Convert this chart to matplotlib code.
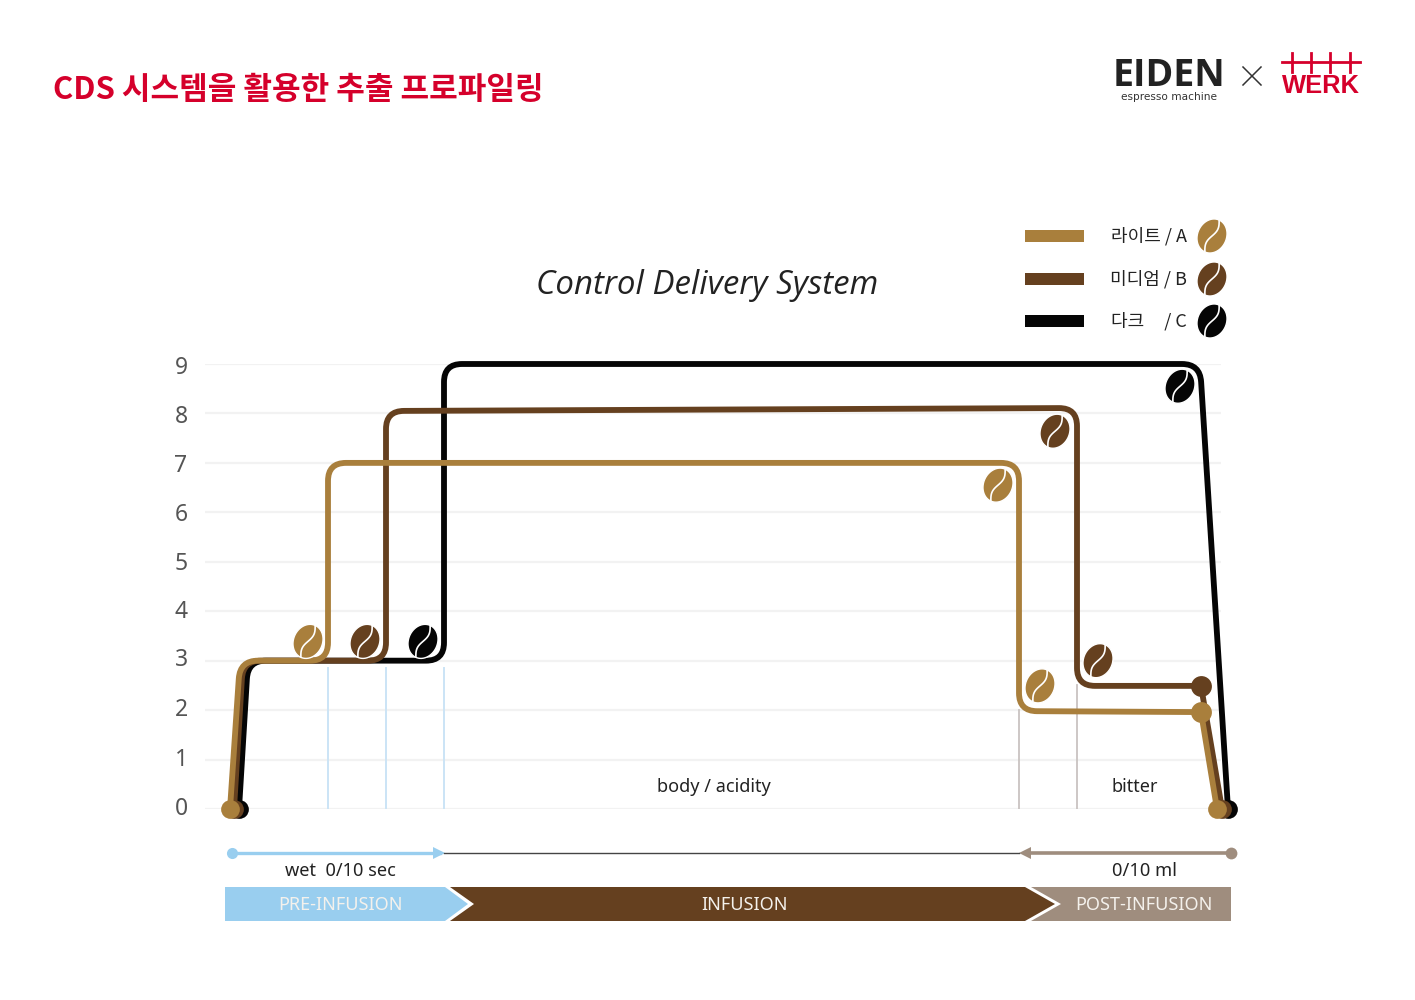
import matplotlib
matplotlib.use("Agg")
import numpy as np
import matplotlib.pyplot as plt
from matplotlib.path import Path
from matplotlib.patches import PathPatch, Polygon, Rectangle
from matplotlib.transforms import Affine2D

plt.rcParams['font.family'] = ['Noto Sans CJK KR', 'DejaVu Sans']

LIGHT = '#a97f3c'
MEDIUM = '#65401f'
DARK = '#050505'
RED = '#d5002b'
SKY = '#99ceef'
TAUPE = '#9f8d7e'

# series, x is picture position along the time axis, y is the chart value
light_x = [230, 240, 328, 328, 1019, 1019, 1201, 1217]
light_y = [0, 3, 3, 7, 7, 1.98, 1.96, 0]
medium_x = [234, 243, 386, 386, 1077, 1077, 1201, 1222]
medium_y = [0, 3, 3, 8.05, 8.11, 2.49, 2.49, 0]
dark_x = [239, 248, 444, 444, 1200, 1228]
dark_y = [0, 3, 3, 9, 9, 0]

y_ticks = [0, 1, 2, 3, 4, 5, 6, 7, 8, 9]
y_label_pos = [0, 0.99, 2.0, 3.01, 3.98, 4.96, 5.95, 6.94, 7.93, 8.92]

blue_x = [328, 386, 444]
blue_top = [3, 3, 3]
grey_x = [1019, 1077]
grey_top = [2, 2.5]

# beans: x, y, colour
chart_beans = [(308, 3.39, LIGHT), (365, 3.39, MEDIUM), (423, 3.39, DARK),
               (998, 6.55, LIGHT), (1055, 7.64, MEDIUM), (1180, 8.55, DARK),
               (1040, 2.49, LIGHT), (1098, 3.0, MEDIUM)]
legend_names = ['라이트 / A', '미디엄 / B', '다크     / C']
legend_colors = [LIGHT, MEDIUM, DARK]
legend_y = [236, 279, 321]


def rounded(ax, xs, ys, sharp, r=18):
    pts = ax.transData.transform(np.column_stack([xs, ys]))
    verts = [pts[0]]
    codes = [Path.MOVETO]
    for i in range(1, len(pts) - 1):
        if i in sharp:
            verts.append(pts[i])
            codes.append(Path.LINETO)
            continue
        a = pts[i - 1] - pts[i]
        b = pts[i + 1] - pts[i]
        a = a / np.hypot(*a)
        b = b / np.hypot(*b)
        verts += [pts[i] + a * r, pts[i], pts[i] + b * r]
        codes += [Path.LINETO, Path.CURVE3, Path.CURVE3]
    verts.append(pts[-1])
    codes.append(Path.LINETO)
    return Path(ax.transData.inverted().transform(np.array(verts)), codes)


def bean(ax, x, y, color, tr, z=6):
    # drawn in picture pixels, y pointing down
    t = np.linspace(0, 2 * np.pi, 60)
    body = np.column_stack([14.5 * np.cos(t), 17.5 * np.sin(t)])
    rot = Affine2D().rotate_deg(24).translate(x, y)
    ax.add_patch(Polygon(rot.transform(body), closed=True, fc=color, ec='white',
                         lw=1.0, transform=tr, zorder=z, clip_on=False))
    s = np.linspace(-1, 1, 30)
    crease = np.column_stack([2.6 * np.sin(s * np.pi), -17.5 * s])
    ax.plot(*rot.transform(crease).T, color='white', lw=1.2, transform=tr,
            zorder=z + 0.1, clip_on=False, solid_capstyle='butt')


fig = plt.figure(figsize=(14.15, 10), dpi=100, facecolor='white')

bg = fig.add_axes([0, 0, 1, 1])
bg.set_xlim(0, 1415)
bg.set_ylim(1000, 0)
bg.axis('off')

# chart axes: x 205-1221 px, value 0 at 809 px, value 9 at 364 px
chart = fig.add_axes([205 / 1415, (1000 - 809) / 1000, 1016 / 1415, 445 / 1000])
chart.set_xlim(205, 1221)
chart.set_ylim(0, 9)
chart.patch.set_alpha(0)
for s in chart.spines.values():
    s.set_visible(False)
chart.set_xticks([])
chart.set_yticks(y_ticks)
chart.tick_params(left=False, labelleft=False)
chart.grid(axis='y', color='#f2f2f2', lw=1.6)
chart.set_axisbelow(True)

for x, top in zip(blue_x, blue_top):
    chart.plot([x, x], [0, top - 0.14], color='#cbe4f6', lw=1.4, zorder=1)
for x, top in zip(grey_x, grey_top):
    chart.plot([x, x], [0, top], color='#c9c3c1', lw=1.3, zorder=1)

for y, lab in zip(y_label_pos, y_ticks):
    chart.text(181, y, str(lab), ha='center', va='center', fontsize=16.5,
               color='#555555', family='Noto Sans', clip_on=False)

series = [(dark_x, dark_y, DARK, [], 3), (medium_x, medium_y, MEDIUM, [6], 4),
          (light_x, light_y, LIGHT, [6], 5)]
for xs, ys, col, sharp, z in series:
    chart.add_patch(PathPatch(rounded(chart, xs, ys, sharp), fc='none', ec=col, lw=4.2,
                              zorder=z, clip_on=False, capstyle='butt', joinstyle='round'))
    chart.plot([xs[0], xs[-1]], [ys[0], ys[-1]], 'o', color=col, ms=13.5, mew=0,
               zorder=z, clip_on=False)
chart.plot(medium_x[6], medium_y[6], 'o', color=MEDIUM, ms=15, mew=0, zorder=4, clip_on=False)
chart.plot(light_x[6], light_y[6], 'o', color=LIGHT, ms=15, mew=0, zorder=5, clip_on=False)

for x, y, col in chart_beans:
    px = chart.transData.transform((x, y))
    bean(chart, px[0], 1000 - px[1], col, bg.transData)

chart.text(714, 0.45, 'body / acidity', ha='center', va='center', fontsize=13,
           color='#222222', family='Noto Sans', clip_on=False)
chart.text(1135, 0.45, 'bitter', ha='center', va='center', fontsize=13,
           color='#222222', family='Noto Sans', clip_on=False)

# header
bg.text(53, 90, 'CDS 시스템을 활용한 추출 프로파일링', ha='left', va='center',
        fontsize=22.4, fontweight='bold', color=RED)
bg.text(707, 285, 'Control Delivery System', ha='center', va='center', fontsize=23.8,
        style='italic', color='#222222', family='Open Sans')

# logos
bg.text(1169, 76, 'EIDEN', ha='center', va='center', fontsize=27, fontweight='bold',
        color='#222222', family='Open Sans')
bg.text(1169, 97.5, 'espresso machine', ha='center', va='center', fontsize=7.6,
        color='#333333', family='DejaVu Sans')
bg.plot([1243, 1261], [67, 85], color='#333333', lw=1.1)
bg.plot([1243, 1261], [85, 67], color='#333333', lw=1.1)
for x in [1292, 1311, 1330, 1350]:
    bg.plot([x, x], [53, 72], color=RED, lw=2.0)
bg.plot([1282, 1360], [62, 62], color=RED, lw=2.0)
bg.text(1321, 86, 'WERK', ha='center', va='center', fontsize=18.4, color=RED,
        fontweight='bold', family='Liberation Sans')

# legend
for y, name, col in zip(legend_y, legend_names, legend_colors):
    bg.add_patch(Rectangle((1025, y - 6), 59, 12, fc=col, ec='none'))
    bg.text(1187, y, name, ha='right', va='center', fontsize=13, color='#222222',
            fontweight='medium')
    bean(bg, 1212, y, col, bg.transData)

# arrows under the chart
bg.plot([232, 440], [853, 853], color=SKY, lw=2.4)
bg.plot(232, 853, 'o', color=SKY, ms=8, mew=0)
bg.add_patch(Polygon([[433, 847], [445, 853], [433, 859]], fc=SKY, ec='none'))
bg.plot([444, 1019], [853, 853], color='#444444', lw=1.0)
bg.plot([1025, 1231], [853, 853], color=TAUPE, lw=2.6)
bg.plot(1231, 853, 'o', color=TAUPE, ms=8.5, mew=0)
bg.add_patch(Polygon([[1031, 847], [1019, 853], [1031, 859]], fc=TAUPE, ec='none'))
bg.text(340, 871, 'wet  0/10 sec', ha='center', va='center', fontsize=13.1,
        color='#222222', family='Noto Sans')
bg.text(1144, 871, '0/10 ml', ha='center', va='center', fontsize=13.2,
        color='#222222', family='Noto Sans')

# phase ribbon
bg.add_patch(Polygon([[225, 887], [445, 887], [468, 904], [445, 921], [225, 921]],
                     fc=SKY, ec='none'))
bg.add_patch(Polygon([[450, 887], [1025, 887], [1055, 904], [1025, 921], [450, 921], [474, 904]],
                     fc=MEDIUM, ec='none'))
bg.add_patch(Polygon([[1031, 887], [1231, 887], [1231, 921], [1031, 921], [1061, 904]],
                     fc=TAUPE, ec='none'))
for x, lab in zip([340, 745, 1144], ['PRE-INFUSION', 'INFUSION', 'POST-INFUSION']):
    bg.text(x, 905.5, lab, ha='center', va='center', fontsize=13, color='#f4f1ec',
            family='Noto Sans')

fig.savefig('out.png', dpi=100)
